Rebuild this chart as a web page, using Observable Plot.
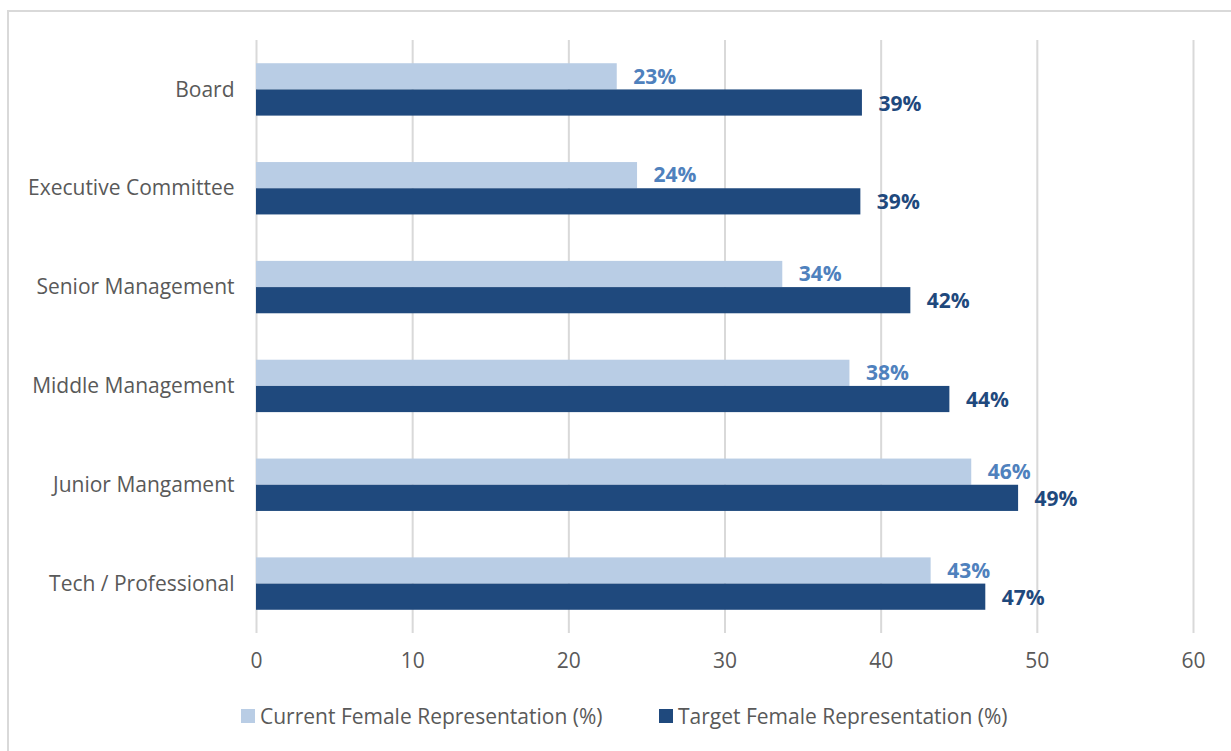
<!DOCTYPE html>
<html>
<head>
<meta charset="utf-8">
<script src="https://cdn.jsdelivr.net/npm/d3@7"></script>
<script src="https://cdn.jsdelivr.net/npm/@observablehq/plot@0.6"></script>
<style>
  html, body { margin: 0; padding: 0; background: #fff; overflow: hidden; width: 1231px; height: 751px; }
  #frame { position: absolute; left: 7px; top: 10px; width: 1260px; height: 780px; border: 2px solid #d9d9d9; box-sizing: border-box; }
  #chart { position: absolute; left: 0; top: 0; }
  #legend { position: absolute; top: 702px; left: 0; width: 1231px; font-family: "Open Sans", sans-serif; font-size: 21px; color: #595959; }
  .item { position: absolute; top: 0; display: flex; align-items: center; white-space: nowrap; }
  .sw { width: 14px; height: 14px; margin-right: 5px; }
</style>
</head>
<body>
<div id="frame"></div>
<div id="chart"></div>
<div id="legend"></div>
<script>
const categories = ["Board", "Executive Committee", "Senior Management", "Middle Management", "Junior Mangament", "Tech / Professional"];
const currentValues = [23.1, 24.4, 33.7, 38.0, 45.8, 43.2];
const targetValues = [38.8, 38.7, 41.9, 44.4, 48.8, 46.7];
const seriesNames = ["Current Female Representation (%)", "Target Female Representation (%)"];
const seriesColors = ["#b9cde5", "#1f497d"];
const labelColors = ["#4f81bd", "#1f497d"];
const xTicks = [0, 10, 20, 30, 40, 50, 60];

const current = categories.map((c, i) => ({category: c, value: currentValues[i]}));
const target = categories.map((c, i) => ({category: c, value: targetValues[i]}));
const fmt = d => Math.round(d.value) + "%";

const chart = Plot.plot({
  width: 1231,
  height: 690,
  marginLeft: 256,
  marginRight: 38,
  marginTop: 40,
  marginBottom: 57,
  style: {fontFamily: "'Open Sans', sans-serif", fontSize: "21px", color: "#595959", background: "transparent"},
  x: {domain: [0, 60], ticks: xTicks, tickSize: 0, tickPadding: 20, grid: true, label: null},
  y: {domain: categories, paddingInner: 0.47, paddingOuter: 0.235, round: false, tickSize: 0, tickPadding: 22, label: null},
  marks: [
    Plot.gridX(xTicks, {stroke: "#d9d9d9", strokeOpacity: 1, strokeWidth: 2}),
    Plot.barX(current, {x: "value", y: "category", fill: seriesColors[0], insetBottom: 26.2}),
    Plot.barX(target, {x: "value", y: "category", fill: seriesColors[1], insetTop: 26.2}),
    Plot.text(current, {x: "value", y: "category", text: fmt, dy: -13, dx: 16, textAnchor: "start", fill: labelColors[0], fontWeight: "bold", fontSize: 21}),
    Plot.text(target, {x: "value", y: "category", text: fmt, dy: 14, dx: 16, textAnchor: "start", fill: labelColors[1], fontWeight: "bold", fontSize: 21})
  ]
});
document.getElementById("chart").appendChild(chart);

const legend = document.getElementById("legend");
const lefts = [241, 659];
seriesNames.forEach((name, i) => {
  const item = document.createElement("div");
  item.className = "item";
  item.style.left = lefts[i] + "px";
  const sw = document.createElement("div");
  sw.className = "sw";
  sw.style.background = seriesColors[i];
  const t = document.createElement("span");
  t.textContent = name;
  item.appendChild(sw);
  item.appendChild(t);
  legend.appendChild(item);
});
</script>
</body>
</html>
